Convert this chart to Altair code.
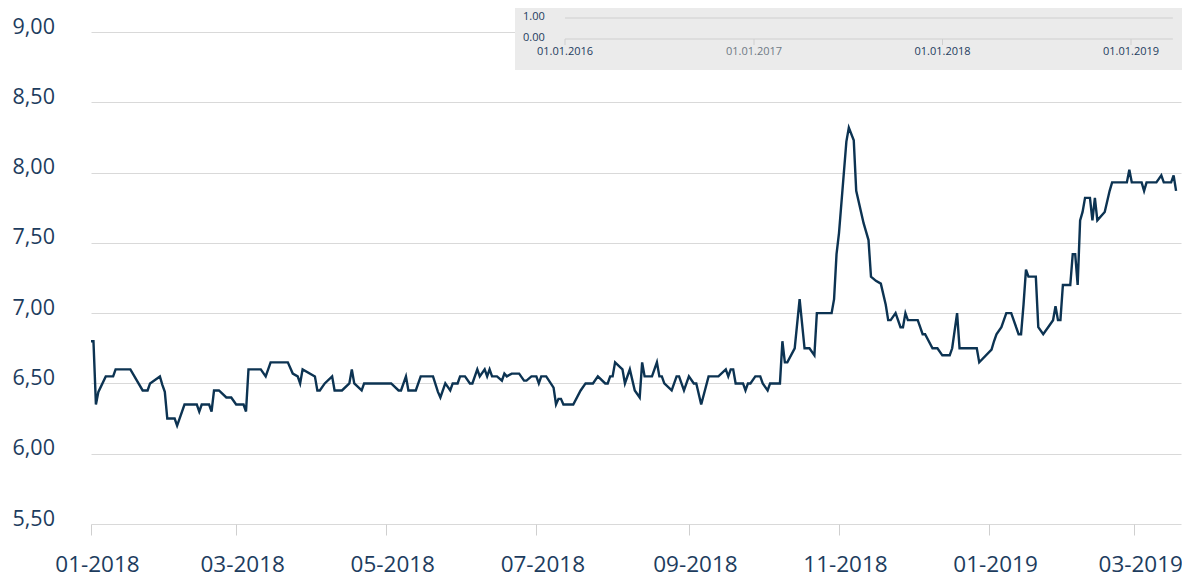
import altair as alt
import pandas as pd

# ---- main series: day offset from 2018-01-01 and rate value ----
day_offsets = [
    0, 1, 2, 3, 6, 9, 10, 16, 21, 23, 24, 28, 29, 30, 31, 34, 35, 36, 38, 43,
    44, 45, 48, 49, 50, 52, 55, 57, 59, 62, 63, 64, 69, 71, 73, 80, 82, 84, 85, 86,
    91, 92, 93, 95, 98, 99, 102, 105, 106, 107, 110, 111, 122, 125, 126, 128, 129, 132, 134, 139,
    141, 142, 144, 146, 147, 149, 150, 152, 154, 155, 157, 158, 160, 161, 162, 163, 165, 167, 168, 169,
    171, 174, 176, 177, 179, 181, 182, 183, 185, 188, 189, 190, 191, 192, 196, 199, 201, 204, 206, 209,
    210, 211, 212, 213, 216, 217, 219, 221, 223, 224, 225, 228, 230, 231, 232, 233, 236, 238, 239, 241,
    243, 245, 246, 248, 251, 255, 258, 259, 260, 261, 262, 265, 266, 267, 268, 270, 272, 273, 275, 276,
    280, 281, 282, 283, 286, 288, 290, 292, 294, 295, 301, 302, 303, 304, 307, 308, 310, 311, 314, 315,
    316, 317, 319, 321, 323, 324, 325, 327, 329, 330, 331, 332, 336, 337, 338, 339, 342, 344, 346, 349,
    350, 352, 353, 360, 361, 366, 367, 368, 370, 372, 374, 377, 378, 379, 380, 381, 384, 385, 387, 389,
    391, 392, 393, 394, 395, 398, 399, 400, 401, 402, 403, 404, 406, 407, 408, 409, 412, 414, 415, 421,
    422, 423, 427, 428, 429, 433, 435, 436, 439, 440, 441,
]
rate_values = [
    6.80, 6.80, 6.35, 6.44, 6.55, 6.55, 6.60, 6.60, 6.45, 6.45, 6.50, 6.55, 6.49, 6.44, 6.25, 6.25, 6.20, 6.25, 6.35, 6.35,
    6.30, 6.35, 6.35, 6.30, 6.45, 6.45, 6.40, 6.40, 6.35, 6.35, 6.30, 6.60, 6.60, 6.55, 6.65, 6.65, 6.57, 6.55, 6.50, 6.60,
    6.55, 6.45, 6.45, 6.50, 6.55, 6.45, 6.45, 6.50, 6.60, 6.50, 6.45, 6.50, 6.50, 6.45, 6.45, 6.55, 6.45, 6.45, 6.55, 6.55,
    6.44, 6.40, 6.50, 6.45, 6.50, 6.50, 6.55, 6.55, 6.50, 6.50, 6.60, 6.55, 6.60, 6.55, 6.60, 6.55, 6.55, 6.52, 6.57, 6.55,
    6.57, 6.57, 6.52, 6.52, 6.55, 6.55, 6.50, 6.55, 6.55, 6.47, 6.35, 6.39, 6.39, 6.35, 6.35, 6.45, 6.50, 6.50, 6.55, 6.50,
    6.50, 6.55, 6.55, 6.65, 6.60, 6.50, 6.60, 6.45, 6.40, 6.65, 6.55, 6.55, 6.65, 6.55, 6.55, 6.50, 6.45, 6.55, 6.55, 6.45,
    6.55, 6.50, 6.50, 6.35, 6.55, 6.55, 6.60, 6.55, 6.60, 6.60, 6.50, 6.50, 6.45, 6.50, 6.50, 6.55, 6.55, 6.50, 6.45, 6.50,
    6.50, 6.80, 6.65, 6.65, 6.75, 7.10, 6.75, 6.75, 6.70, 7.00, 7.00, 7.10, 7.42, 7.57, 8.22, 8.32, 8.23, 7.87, 7.64, 7.58,
    7.52, 7.26, 7.23, 7.21, 7.06, 6.95, 6.95, 7.00, 6.90, 6.90, 7.00, 6.95, 6.95, 6.90, 6.85, 6.85, 6.75, 6.75, 6.70, 6.70,
    6.75, 7.00, 6.75, 6.75, 6.65, 6.74, 6.80, 6.85, 6.90, 7.00, 7.00, 6.85, 6.85, 7.06, 7.31, 7.26, 7.26, 6.90, 6.85, 6.90,
    6.95, 7.05, 6.95, 6.95, 7.20, 7.20, 7.42, 7.42, 7.20, 7.66, 7.72, 7.82, 7.82, 7.66, 7.82, 7.66, 7.72, 7.87, 7.93, 7.93,
    8.02, 7.93, 7.93, 7.87, 7.93, 7.93, 7.98, 7.93, 7.93, 7.98, 7.87,
]

y_ticks = [5.5, 6.0, 6.5, 7.0, 7.5, 8.0, 8.5, 9.0]
x_tick_months = [(2018, 1), (2018, 3), (2018, 5), (2018, 7), (2018, 9), (2018, 11), (2019, 1), (2019, 3)]

# ---- inset (navigator) ----
inset_grid_values = [0.0, 1.0]
inset_grid_labels = ["0.00", "1.00"]
inset_tick_dates = ["2016-01-01", "2017-01-01", "2018-01-01", "2019-01-01"]
inset_tick_labels = ["01.01.2016", "01.01.2017", "01.01.2018", "01.01.2019"]
inset_tick_colors = ["#1d3c5e", "#6f7a85", "#1d3c5e", "#1d3c5e"]
inset_start, inset_end = "2016-01-01", "2019-03-23"

start = pd.Timestamp("2018-01-01")
dates = [(start + pd.Timedelta(days=d)).strftime("%Y-%m-%d") for d in day_offsets]
main_df = pd.DataFrame({"date": dates, "rate": rate_values})

FONT = "Open Sans"
LABEL_COLOR = "#1d3c5e"
LINE_COLOR = "#0c3352"

def dt(y, m, d=1):
    return alt.DateTime(year=y, month=m, date=d, utc=True)

line = alt.Chart(main_df).mark_line(color=LINE_COLOR, strokeWidth=2.4).encode(
    x=alt.X(
        "date:T",
        scale=alt.Scale(type="utc", domain=[dt(2018, 1, 1), dt(2019, 3, 20)], nice=False),
        axis=alt.Axis(
            values=[dt(y, m) for y, m in x_tick_months],
            labelExpr="utcFormat(datum.value, '%m-%Y')",
            grid=False, domain=False,
            ticks=True, tickSize=11, tickColor="#cfcfcf", tickWidth=1,
            labelFont=FONT, labelFontSize=22.5, labelColor=LABEL_COLOR,
            labelPadding=18, labelOffset=6, labelOverlap=False, labelBound=False,
            labelFlush=False, title=None,
        ),
    ),
    y=alt.Y(
        "rate:Q",
        scale=alt.Scale(domain=[5.5, 9.0], nice=False, zero=False),
        axis=alt.Axis(
            values=y_ticks,
            labelExpr="replace(format(datum.value, '.2f'), '.', ',')",
            grid=True, gridColor="#d9d9d9", gridWidth=1,
            domain=False, ticks=False,
            labelAlign="left", labelPadding=79, labelBaseline="middle", labelOffset=-5,
            labelFont=FONT, labelFontSize=21.5, labelColor=LABEL_COLOR, title=None,
        ),
    ),
)

panel = alt.Chart(pd.DataFrame({"k": [0]})).mark_rect(color="#ebebeb").encode(
    x=alt.value(424), x2=alt.value(1092), y=alt.value(-24), y2=alt.value(38)
)

ix_scale = alt.Scale(type="utc", domain=[dt(2016, 1, 1), dt(2019, 1, 1)], range=[474, 1040], nice=False)
iy_scale = alt.Scale(domain=[0, 1], range=[7, -14], nice=False, zero=False)

grid_df = pd.DataFrame({"v": inset_grid_values, "lab": inset_grid_labels,
                        "s": [inset_start] * 2, "e": [inset_end] * 2})
tick_df = pd.DataFrame({"d": inset_tick_dates, "lab": inset_tick_labels,
                        "c": inset_tick_colors, "z": [0.0] * 4})

inset_grid = alt.Chart(grid_df).mark_rule(color="#cfcfcf", strokeWidth=1).encode(
    x=alt.X("s:T", scale=ix_scale, axis=None),
    x2="e:T",
    y=alt.Y("v:Q", scale=iy_scale, axis=None),
)
inset_ticks = alt.Chart(tick_df).mark_rule(color="#cfcfcf", strokeWidth=1).encode(
    x=alt.X("d:T", scale=ix_scale, axis=None),
    y=alt.Y("z:Q", scale=iy_scale, axis=None),
    y2=alt.value(13),
)
inset_xlabels = alt.Chart(tick_df).mark_text(
    font=FONT, fontSize=11, baseline="middle", align="center"
).encode(
    x=alt.X("d:T", scale=ix_scale, axis=None),
    y=alt.value(20),
    text="lab:N",
    color=alt.Color("c:N", scale=None),
)
inset_ylabels = alt.Chart(grid_df).mark_text(
    font=FONT, fontSize=11, baseline="middle", align="left", dy=-1, color=LABEL_COLOR
).encode(
    x=alt.value(432),
    y=alt.Y("v:Q", scale=iy_scale, axis=None),
    text="lab:N",
)

chart = alt.layer(
    line, panel, inset_grid, inset_ticks, inset_xlabels, inset_ylabels
).resolve_scale(x="independent", y="independent").properties(
    width=1090, height=492,
    autosize=alt.AutoSizeParams(type="none"),
    padding={"left": 83, "top": 24, "right": 1, "bottom": 56},
    background="white",
).configure_view(stroke=None)

chart.save("out.html", embed_options={"renderer": "svg", "actions": False})
